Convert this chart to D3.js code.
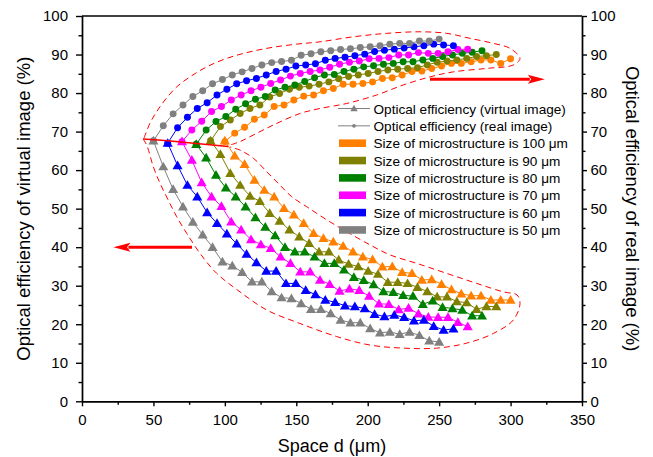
<!DOCTYPE html>
<html>
<head>
<meta charset="utf-8">
<script src="https://cdn.jsdelivr.net/npm/d3@7"></script>
<style>
  body { margin: 0; background: #fff; }
  svg { font-family: "Liberation Sans", Arial, sans-serif; }
</style>
</head>
<body>
<div id="chart"></div>
<script>
// microstructure sizes (start of each curve, um) and colours
var sizes = [100, 90, 80, 70, 60, 50];
var colors = ["#FF8000", "#808000", "#008000", "#FF00FF", "#0000FF", "#808080"];

// distance from the start of each curve, um
var offsets = [0, 6.9, 13.8, 20.7, 27.6, 34.5, 41.4, 48.3, 55.2, 62.1, 69, 75.9, 82.8, 89.7, 96.6,
  103.4, 110.3, 117.2, 124.1, 131, 137.9, 144.8, 151.7, 158.6, 165.5, 172.4, 179.3, 186.2, 193.1, 200];

// optical efficiency of virtual image (%)
var virt100 = [67.6,63.7,61.5,57.4,54.8,53.1,50.1,48.4,46.2,43.6,42.3,41.4,40.3,38.8,37.5,36.8,34.9,35.0,33.5,33.2,31.5,31.6,30.4,29.0,27.9,27.4,27.4,26.3,26.3,26.3];
var virt90 = [67.6,64.1,59.2,56.1,53.3,51.9,48.8,46.8,44.5,42.7,41.0,38.8,38.8,36.7,35.6,35.0,33.8,33.0,30.9,30.9,30.6,29.6,28.5,27.1,27.1,25.9,25.6,23.9,24.6,24.6];
var virt80 = [66.7,63.2,58.7,55.4,53.1,50.5,47.7,45.2,43.0,40.0,38.8,38.8,37.5,35.8,35.8,34.1,32.2,31.4,30.3,28.5,28.3,27.5,27.3,25.2,26.1,24.4,24.1,23.7,22.2,22.2];
var virt70 = [67.4,62.6,56.8,53.1,50.6,46.6,44.5,42.0,40.7,39.7,37.5,35.8,33.6,33.6,31.5,30.4,28.6,29.2,28.8,27.3,25.3,25.2,23.8,24.2,22.7,21.9,21.8,21.8,20.5,19.4];
var virt60 = [67.0,61.2,56.1,53.1,49.0,46.2,43.5,40.9,38.2,36.0,33.8,33.8,30.6,30.6,28.8,27.7,26.3,25.7,24.8,24.6,24.1,22.6,22.0,22.4,21.8,20.9,21.1,19.5,18.5,18.8];
var virt50 = [67.6,60.9,55.0,50.5,46.5,43.2,40.0,36.2,35.2,33.5,31.0,31.0,28.5,26.9,26.7,25.4,23.9,23.9,22.8,21.1,20.4,20.4,18.9,17.8,18.0,17.4,18.0,17.1,15.7,15.4];

// optical efficiency of real image (%)
var real100 = [67.4,69.6,71.1,73.2,74.3,76.5,76.9,78.2,79.2,79.5,80.6,81.2,82.3,82.3,82.5,82.9,83.8,84.0,84.7,85.6,85.7,86.4,87.0,87.7,87.7,88.1,88.6,88.6,87.7,88.9];
var real90 = [67.6,71.3,73.0,74.7,76.0,76.9,79.0,79.9,81.0,81.5,81.8,82.3,82.9,83.7,84.3,84.7,85.1,85.6,86.0,86.2,86.4,86.6,87.3,88.0,88.3,88.6,89.0,89.5,89.7,90.0];
var real80 = [66.7,70.4,72.6,73.9,75.8,77.2,78.4,79.1,80.8,81.5,82.1,83.0,84.0,84.7,84.8,85.6,86.2,86.8,87.1,87.5,87.7,88.1,88.1,88.6,89.0,89.5,89.9,90.3,90.6,91.0];
var real70 = [67.4,70.4,72.7,75.2,76.5,78.2,79.5,80.6,81.5,82.5,83.4,84.4,85.1,85.6,86.0,86.7,87.5,88.0,88.3,88.9,89.0,89.2,89.9,89.9,90.5,90.3,90.3,90.7,91.3,91.4];
var real60 = [67.0,71.0,73.7,76.0,77.5,79.5,81.0,82.4,83.2,83.8,84.7,85.6,86.2,87.0,87.3,87.6,88.5,89.0,89.3,89.7,90.1,90.8,91.1,91.4,91.7,92.0,92.3,92.7,92.5,92.3];
var real50 = [67.6,71.5,74.6,76.9,79.1,80.6,82.4,83.5,84.7,85.5,86.4,87.3,87.9,88.2,88.5,89.8,90.2,90.7,91.0,91.3,91.5,91.8,92.0,92.3,92.7,92.9,92.9,93.5,93.5,94.0];

var virtual = [virt100, virt90, virt80, virt70, virt60, virt50];
var real = [real100, real90, real80, real70, real60, real50];

// hand drawn red envelopes, [d, efficiency]
var upperEnv = [[43.4,68.3],[47.6,72.2],[52.3,75.2],[58.1,78.2],[66.3,81.6],[75.6,84.2],[87.3,86.8],[101.3,89.0],
  [117.6,90.7],[133.9,91.9],[150.3,92.7],[166.6,93.3],[189.9,94.6],[213.3,95.5],[236.6,95.9],[255.3,95.5],
  [271.6,94.2],[287.9,92.9],[299.6,91.6],[306.6,89.0],[301.9,87.3],[283.3,86.4],[259.9,85.5],[243.6,84.2],
  [224.9,82.1],[206.3,79.5],[185.3,77.3],[166.6,76.0],[152.6,74.7],[133.9,71.7],[119.9,69.1],[110.6,67.4],[103.6,66.5]];
var lowerEnv = [[42.7,68.1],[45.3,66.5],[49.9,60.9],[54.6,56.6],[60.4,52.2],[66.3,47.9],[73.3,43.6],[82.6,38.4],
  [94.3,33.2],[110.6,28.4],[129.3,23.7],[152.6,20.2],[178.3,16.8],[201.6,14.6],[224.9,13.8],[248.3,13.8],
  [269.3,15.1],[287.9,17.6],[301.9,21.1],[306.6,25.4],[304.5,27.6],[294.9,28.4],[276.3,30.6],[255.3,33.2],
  [234.3,35.8],[215.6,38.0],[201.6,40.6],[185.3,44.0],[171.3,47.1],[157.3,50.5],[146.8,53.1],[138.6,56.1],
  [129.3,59.6],[119.9,63.1],[110.6,65.2],[103.6,66.0]];
var startLine = [[42.7,68.1],[60,67.6],[80,66.9],[102.4,66.1]];
var arrowLeft = [[77,40],[22,40]];
var arrowRight = [[243.6,83.6],[324,83.6]];

var legendLabels = ["Size of microstructure is 100 \u03bcm", "Size of microstructure is 90 \u03bcm",
  "Size of microstructure is 80 \u03bcm", "Size of microstructure is 70 \u03bcm",
  "Size of microstructure is 60 \u03bcm", "Size of microstructure is 50 \u03bcm"];

var width = 653, height = 457;
var marge = {top: 16, bottom: 55.7, left: 82, right: 71};

var svg = d3.select("#chart").append("svg")
  .attr("width", width).attr("height", height);

var x = d3.scaleLinear().domain([0, 350]).range([marge.left, width - marge.right]);
var y = d3.scaleLinear().domain([0, 100]).range([height - marge.bottom, marge.top]);

// axes
var bottom = height - marge.bottom;
var right = width - marge.right;

function styleAxis(g) {
  g.selectAll("path,line").attr("stroke", "#000").attr("stroke-width", 1.4);
  g.selectAll("text").attr("font-size", 15).attr("fill", "#000")
    .attr("font-family", "Liberation Sans, Arial, sans-serif");
}

svg.append("g").attr("transform", "translate(0," + bottom + ")")
  .call(d3.axisBottom(x).tickValues(d3.range(25, 350, 50)).tickSize(3.5).tickSizeOuter(0).tickFormat(""))
  .call(styleAxis);
svg.append("g").attr("transform", "translate(0," + bottom + ")")
  .call(d3.axisBottom(x).tickValues(d3.range(0, 351, 50)).tickSize(5).tickSizeOuter(0).tickPadding(8))
  .call(styleAxis);

svg.append("g").attr("transform", "translate(" + marge.left + ",0)")
  .call(d3.axisLeft(y).tickValues(d3.range(5, 100, 10)).tickSize(3.5).tickSizeOuter(0).tickFormat(""))
  .call(styleAxis);
svg.append("g").attr("transform", "translate(" + marge.left + ",0)")
  .call(d3.axisLeft(y).tickValues(d3.range(0, 101, 10)).tickSize(6).tickSizeOuter(0).tickPadding(8))
  .call(styleAxis);

svg.append("g").attr("transform", "translate(" + right + ",0)")
  .call(d3.axisRight(y).tickValues(d3.range(5, 100, 10)).tickSize(3.5).tickSizeOuter(0).tickFormat(""))
  .call(styleAxis);
svg.append("g").attr("transform", "translate(" + right + ",0)")
  .call(d3.axisRight(y).tickValues(d3.range(0, 101, 10)).tickSize(5).tickSizeOuter(0).tickPadding(3.5))
  .call(styleAxis);

svg.append("line")
  .attr("x1", marge.left).attr("x2", right)
  .attr("y1", marge.top).attr("y2", marge.top)
  .attr("stroke", "#000").attr("stroke-width", 1.4);

// axis titles
svg.append("text")
  .attr("x", (marge.left + right) / 2).attr("y", 452)
  .attr("text-anchor", "middle").attr("font-size", 18)
  .text("Space d (\u03bcm)");
svg.append("text")
  .attr("transform", "translate(30," + (marge.top + bottom) / 2 + ") rotate(-90)")
  .attr("text-anchor", "middle").attr("font-size", 18.5)
  .text("Optical efficiency of virtual image (%)");
svg.append("text")
  .attr("transform", "translate(626," + (marge.top + bottom) / 2 + ") rotate(90)")
  .attr("text-anchor", "middle").attr("font-size", 18.5)
  .text("Optical efficiency of real image (%)");

// series
var line = d3.line().x(function(d) { return x(d[0]); }).y(function(d) { return y(d[1]); });
var tri = d3.symbol().type(d3.symbolTriangle).size(44);
var dot = d3.symbol().type(d3.symbolCircle).size(38);

sizes.forEach(function(s, k) {
  var col = colors[k];
  var rp = real[k].map(function(v, i) { return [s + offsets[i], v]; });
  var vp = virtual[k].map(function(v, i) { return [s + offsets[i], v]; });
  var g = svg.append("g");
  g.append("path").attr("d", line(rp)).attr("fill", "none").attr("stroke", col).attr("stroke-width", 1);
  g.selectAll(".dot").data(rp).enter().append("path")
    .attr("d", dot)
    .attr("transform", function(d) { return "translate(" + x(d[0]) + "," + y(d[1]) + ")"; })
    .attr("fill", col);
  g.append("path").attr("d", line(vp)).attr("fill", "none").attr("stroke", col).attr("stroke-width", 1);
  g.selectAll(".tri").data(vp).enter().append("path")
    .attr("d", tri)
    .attr("transform", function(d) { return "translate(" + x(d[0]) + "," + (y(d[1]) + 0.8) + ")"; })
    .attr("fill", col);
});

// red annotations
var curve = d3.line().x(function(d) { return x(d[0]); }).y(function(d) { return y(d[1]); })
  .curve(d3.curveCatmullRom);
svg.append("path").attr("d", curve(upperEnv)).attr("fill", "none")
  .attr("stroke", "#FF0000").attr("stroke-width", 1).attr("stroke-dasharray", "6,4");
svg.append("path").attr("d", curve(lowerEnv)).attr("fill", "none")
  .attr("stroke", "#FF0000").attr("stroke-width", 1).attr("stroke-dasharray", "6,4");
svg.append("path").attr("d", curve(startLine)).attr("fill", "none")
  .attr("stroke", "#FF0000").attr("stroke-width", 1.5);

function arrow(a) {
  var x0 = x(a[0][0]), x1 = x(a[1][0]), yy = y(a[0][1]);
  var dir = x1 > x0 ? 1 : -1;
  var head = 17;
  svg.append("line")
    .attr("x1", x0).attr("x2", x1 - dir * head + dir * 2)
    .attr("y1", yy).attr("y2", yy)
    .attr("stroke", "#FF0000").attr("stroke-width", 3);
  svg.append("path")
    .attr("d", "M" + x1 + "," + yy + "L" + (x1 - dir * head) + "," + (yy - 4.5) +
      "L" + (x1 - dir * head * 0.8) + "," + yy + "L" + (x1 - dir * head) + "," + (yy + 4.5) + "Z")
    .attr("fill", "#FF0000");
}
arrow(arrowLeft);
arrow(arrowRight);

// legend
var lg = svg.append("g").attr("font-size", 13.6);
var ly0 = 108.5, lstep = 17.35;
[["Optical efficiency (virtual image)", tri], ["Optical efficiency (real image)", dot]].forEach(function(it, i) {
  var yy = ly0 + i * lstep;
  lg.append("line").attr("x1", 338).attr("x2", 370).attr("y1", yy).attr("y2", yy)
    .attr("stroke", "#808080").attr("stroke-width", 1);
  lg.append("path").attr("d", i === 0 ? d3.symbol().type(d3.symbolTriangle).size(24)() : d3.symbol().type(d3.symbolCircle).size(11)())
    .attr("transform", "translate(354," + (yy + (i === 0 ? 0.5 : 0)) + ")").attr("fill", "#808080");
  lg.append("text").attr("x", 373.5).attr("y", yy + 5).text(it[0]);
});
legendLabels.forEach(function(t, i) {
  var yy = ly0 + (i + 2) * lstep;
  lg.append("rect").attr("x", 339).attr("y", yy - 3.8).attr("width", 27).attr("height", 7.6)
    .attr("fill", colors[i]);
  lg.append("text").attr("x", 373.5).attr("y", yy + 5).text(t);
});
</script>
</body>
</html>
